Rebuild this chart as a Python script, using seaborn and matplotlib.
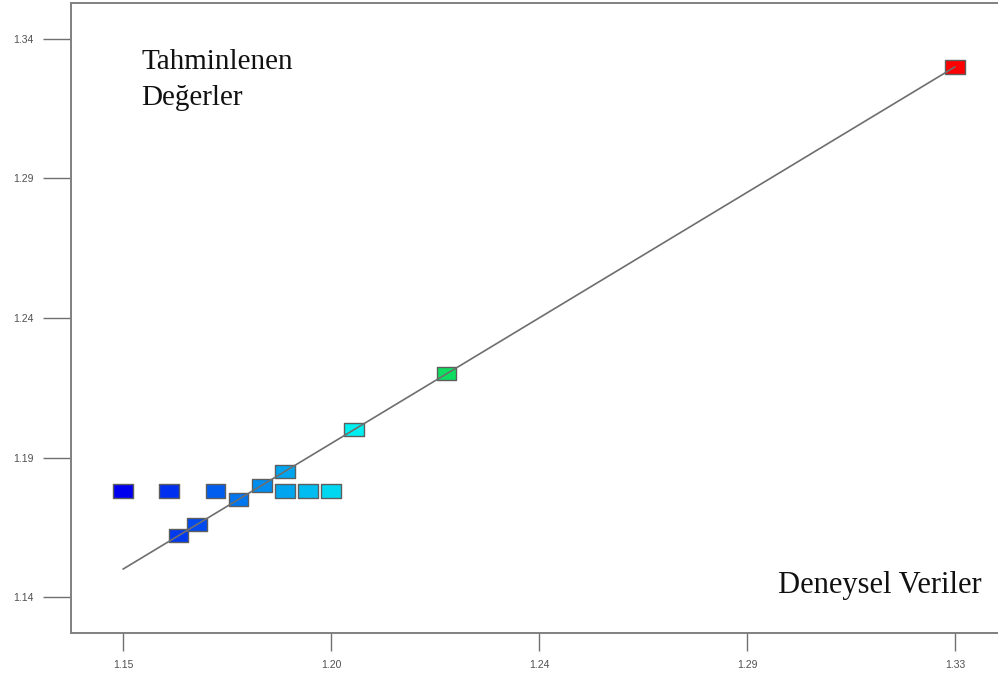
import numpy as np
import pandas as pd
import matplotlib
matplotlib.use("Agg")
import matplotlib.pyplot as plt
from matplotlib.colors import LinearSegmentedColormap
from matplotlib.path import Path
import seaborn as sns

# Experimental (actual) vs model-predicted values
actual = [1.150, 1.160, 1.170, 1.162, 1.166, 1.175, 1.180, 1.185,
          1.185, 1.190, 1.195, 1.200, 1.220, 1.330]
predicted = [1.178, 1.178, 1.178, 1.162, 1.166, 1.175, 1.180, 1.185,
             1.178, 1.178, 1.178, 1.200, 1.220, 1.330]

# Reference line (predicted = actual)
line_x = [1.15, 1.33]
line_y = [1.15, 1.33]

x_ticks = [1.15, 1.195, 1.24, 1.285, 1.33]
x_tick_labels = ["1.15", "1.20", "1.24", "1.29", "1.33"]
y_ticks = [1.14, 1.19, 1.24, 1.29, 1.34]
y_tick_labels = ["1.14", "1.19", "1.24", "1.29", "1.34"]

df = pd.DataFrame({"actual": actual, "predicted": predicted})

sns.set_theme(style="white")
plt.rcParams["font.family"] = ["Liberation Sans", "DejaVu Sans"]

# blue -> cyan -> green -> yellow -> red colour scale
cmap = LinearSegmentedColormap.from_list(
    "scale",
    [(0.0, "#0000ee"), (0.28, "#00f0f0"), (0.40, "#10dc50"),
     (0.70, "#ffff00"), (1.0, "#ff0000")],
)

fig = plt.figure(figsize=(9.98, 6.8), dpi=100)
ax = fig.add_axes([71 / 998, 1 - 633 / 680, 930 / 998, 630 / 680])

# flat rectangular marker
rect = Path([(-1, -0.68), (1, -0.68), (1, 0.68), (-1, 0.68), (-1, -0.68)],
            [Path.MOVETO, Path.LINETO, Path.LINETO, Path.LINETO, Path.CLOSEPOLY])

sns.scatterplot(data=df, x="actual", y="predicted", hue="actual",
                palette=cmap, hue_norm=(1.15, 1.33), marker=rect, s=200,
                edgecolor="#5e5e5e", linewidth=1.0, legend=False, ax=ax,
                zorder=2)
sns.lineplot(x=line_x, y=line_y, color="#6e6e6e", linewidth=1.2, ax=ax,
             zorder=3)

ax.set_xlim(1.13874, 1.33996)
ax.set_ylim(1.12710, 1.35290)
ax.set_xticks(x_ticks)
ax.set_xticklabels(x_tick_labels)
ax.set_yticks(y_ticks)
ax.set_yticklabels(y_tick_labels)
ax.set_xlabel("")
ax.set_ylabel("")

for side in ["left", "bottom", "top", "right"]:
    ax.spines[side].set_color("#808080")
    ax.spines[side].set_linewidth(1.4)

ax.tick_params(axis="y", direction="out", length=20, width=1.0,
               color="#707070", pad=7, labelsize=7.5, labelcolor="#505050",
               left=True)
ax.tick_params(axis="x", direction="out", length=13, width=1.0,
               color="#707070", pad=6.5, labelsize=7.5, labelcolor="#505050",
               bottom=True)

serif = ["Liberation Serif", "DejaVu Serif"]
ax.text(141 / 998, 1 - 69 / 680, "Tahminlenen", transform=fig.transFigure,
        fontsize=21, family=serif, color="#111111", va="baseline", ha="left")
ax.text(141 / 998, 1 - 105 / 680, "Değerler", transform=fig.transFigure,
        fontsize=21, family=serif, color="#111111", va="baseline", ha="left")
ax.text(982 / 998, 1 - 593 / 680, "Deneysel Veriler", transform=fig.transFigure,
        fontsize=22, family=serif, color="#111111", va="baseline", ha="right")

fig.savefig("out.png", dpi=100)
